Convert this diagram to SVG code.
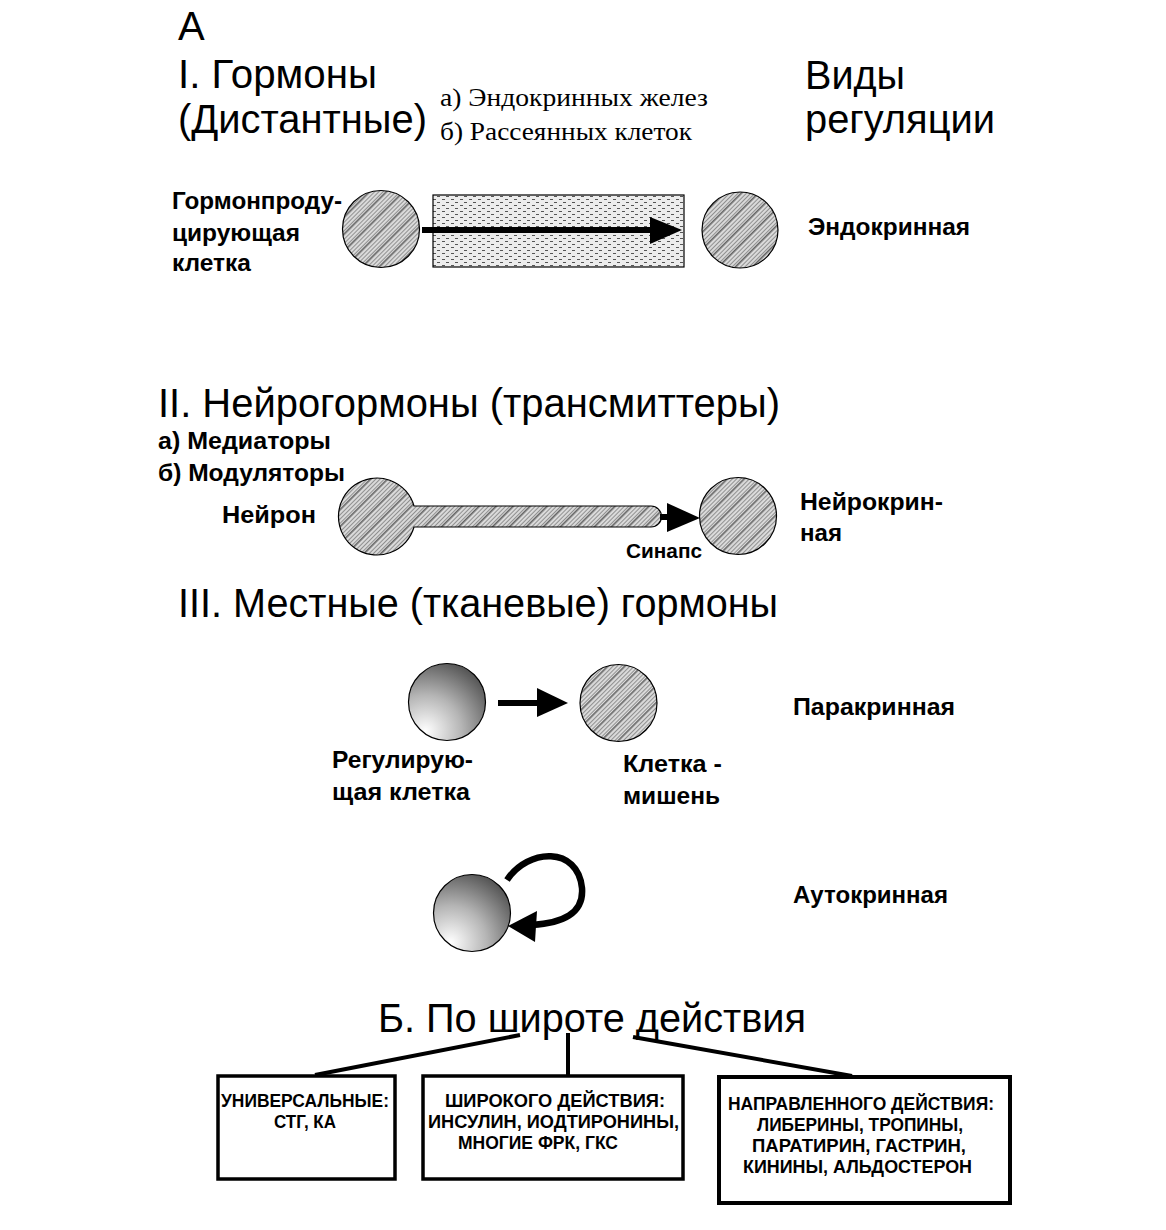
<svg xmlns="http://www.w3.org/2000/svg" width="1166" height="1230" viewBox="0 0 1166 1230">
<defs>
<style>
.h{font-family:"Liberation Sans",Arial,sans-serif;font-size:40px;fill:#000}
.m{font-family:"Liberation Sans",Arial,sans-serif;font-size:23px;font-weight:bold;fill:#000}
.s{font-family:"Liberation Serif","Times New Roman",serif;font-size:26px;fill:#000}
.b{font-family:"Liberation Sans",Arial,sans-serif;font-size:19px;font-weight:bold;fill:#000}
.cell{fill:url(#hatch);stroke:#000;stroke-width:1.2}
.ball{fill:url(#ball);stroke:#000;stroke-width:1.2}
.box{fill:#fff;stroke:#000;stroke-width:3.5}
.ln{stroke:#000;stroke-width:4;fill:none}
</style>
<pattern id="hatch" width="12" height="12" patternUnits="userSpaceOnUse" patternTransform="rotate(-45)">
<rect width="12" height="12" fill="#dadada"/>
<path d="M0,1.5H12M0,4.5H12M0,7.5H12M0,10.5H12" stroke="#707070" stroke-width="0.7"/>
<path d="M0,0H12" stroke="#333" stroke-width="1.4"/>
</pattern>
<pattern id="dots" width="9" height="6" patternUnits="userSpaceOnUse">
<rect width="9" height="6" fill="#ececec"/>
<path d="M1,1.5h3M5,4.5h3" stroke="#555" stroke-width="1"/>
</pattern>
<radialGradient id="ball" cx="0.22" cy="0.88" r="1.05" fx="0.22" fy="0.88">
<stop offset="0" stop-color="#ffffff"/>
<stop offset="0.45" stop-color="#b5b5b5"/>
<stop offset="1" stop-color="#444"/>
</radialGradient>
</defs>
<rect width="1166" height="1230" fill="#fff"/>

<g id="titles">
<text class="h" x="178" y="40">А</text>
<text class="h" x="178" y="88" textLength="199" lengthAdjust="spacingAndGlyphs">I. Гормоны</text>
<text class="h" x="178" y="133" textLength="249" lengthAdjust="spacingAndGlyphs">(Дистантные)</text>
<text class="s" x="440" y="106" textLength="268" lengthAdjust="spacingAndGlyphs">а) Эндокринных желез</text>
<text class="s" x="440" y="140" textLength="252" lengthAdjust="spacingAndGlyphs">б) Рассеянных клеток</text>
<text class="h" x="805" y="89" textLength="100" lengthAdjust="spacingAndGlyphs">Виды</text>
<text class="h" x="805" y="133" textLength="190" lengthAdjust="spacingAndGlyphs">регуляции</text>
<text class="h" x="158" y="417" textLength="622" lengthAdjust="spacingAndGlyphs">II. Нейрогормоны (трансмиттеры)</text>
<text class="m" x="158" y="449" textLength="173" lengthAdjust="spacingAndGlyphs">а) Медиаторы</text>
<text class="m" x="158" y="481" textLength="187" lengthAdjust="spacingAndGlyphs">б) Модуляторы</text>
<text class="h" x="178" y="617" textLength="600" lengthAdjust="spacingAndGlyphs">III. Местные (тканевые) гормоны</text>
<text class="h" x="378" y="1032" textLength="428" lengthAdjust="spacingAndGlyphs">Б. По широте действия</text>
</g>

<g id="endocrine">
<text class="m" x="172" y="209" textLength="170" lengthAdjust="spacingAndGlyphs">Гормонпроду-</text>
<text class="m" x="172" y="241" textLength="128" lengthAdjust="spacingAndGlyphs">цирующая</text>
<text class="m" x="172" y="271" textLength="79" lengthAdjust="spacingAndGlyphs">клетка</text>
<circle id="hormone-cell" class="cell" cx="381" cy="229" r="38.5"/>
<rect id="vessel" x="433" y="195" width="251" height="72" fill="url(#dots)" stroke="#000" stroke-width="1.2"/>
<circle id="endo-target" class="cell" cx="740" cy="230" r="38"/>
<text class="m" x="808" y="235" textLength="162" lengthAdjust="spacingAndGlyphs">Эндокринная</text>
</g>

<g id="neurocrine">
<text class="m" x="222" y="523" textLength="94" lengthAdjust="spacingAndGlyphs">Нейрон</text>
<path id="neuron" class="cell" d="M414,506 A38.5,38.5 0 1 0 414,527 L651,527 A10.5,10.5 0 0 0 651,506 Z"/>
<circle id="neuro-target" class="cell" cx="738" cy="516" r="38.5"/>
<text class="m" x="626" y="558" style="font-size:20px" textLength="76" lengthAdjust="spacingAndGlyphs">Синапс</text>
<text class="m" x="800" y="510" textLength="143" lengthAdjust="spacingAndGlyphs">Нейрокрин-</text>
<text class="m" x="800" y="541" textLength="42" lengthAdjust="spacingAndGlyphs">ная</text>
</g>

<g id="paracrine">
<circle id="regulating-cell" class="ball" cx="447" cy="702" r="38.5"/>
<circle id="target-cell" class="cell" cx="618.5" cy="703" r="38.5"/>
<text class="m" x="793" y="715" textLength="162" lengthAdjust="spacingAndGlyphs">Паракринная</text>
<text class="m" x="332" y="768" textLength="141" lengthAdjust="spacingAndGlyphs">Регулирую-</text>
<text class="m" x="332" y="800" textLength="138" lengthAdjust="spacingAndGlyphs">щая клетка</text>
<text class="m" x="623" y="772" textLength="99" lengthAdjust="spacingAndGlyphs">Клетка -</text>
<text class="m" x="623" y="804" textLength="97" lengthAdjust="spacingAndGlyphs">мишень</text>
</g>

<g id="autocrine">
<circle id="auto-cell" class="ball" cx="472" cy="913" r="38.5"/>
<text class="m" x="793" y="903" textLength="155" lengthAdjust="spacingAndGlyphs">Аутокринная</text>
</g>

<g id="box-universal">
<rect class="box" x="218" y="1076" width="177" height="103"/>
<text class="b" x="221" y="1107" textLength="168" lengthAdjust="spacingAndGlyphs">УНИВЕРСАЛЬНЫЕ:</text>
<text class="b" x="274" y="1128" textLength="62" lengthAdjust="spacingAndGlyphs">СТГ, КА</text>
</g>
<g id="box-broad">
<rect class="box" x="423" y="1076" width="260" height="103"/>
<text class="b" x="445" y="1107" textLength="220" lengthAdjust="spacingAndGlyphs">ШИРОКОГО ДЕЙСТВИЯ:</text>
<text class="b" x="428" y="1128" textLength="251" lengthAdjust="spacingAndGlyphs">ИНСУЛИН, ИОДТИРОНИНЫ,</text>
<text class="b" x="458" y="1149" textLength="160" lengthAdjust="spacingAndGlyphs">МНОГИЕ ФРК, ГКС</text>
</g>
<g id="box-directed">
<rect class="box" x="719" y="1077" width="291" height="126" style="stroke-width:4"/>
<text class="b" x="728" y="1110" textLength="266" lengthAdjust="spacingAndGlyphs">НАПРАВЛЕННОГО ДЕЙСТВИЯ:</text>
<text class="b" x="757" y="1131" textLength="206" lengthAdjust="spacingAndGlyphs">ЛИБЕРИНЫ, ТРОПИНЫ,</text>
<text class="b" x="752" y="1152" textLength="214" lengthAdjust="spacingAndGlyphs">ПАРАТИРИН, ГАСТРИН,</text>
<text class="b" x="743" y="1173" textLength="229" lengthAdjust="spacingAndGlyphs">КИНИНЫ, АЛЬДОСТЕРОН</text>
</g>

<g id="connectors">
<line x1="422" y1="230" x2="652" y2="230" stroke="#000" stroke-width="6"/>
<polygon points="650,217 682,230 650,244" fill="#000"/>
<line x1="660" y1="517" x2="672" y2="517" stroke="#000" stroke-width="6"/>
<polygon points="667,503 700,518 667,532" fill="#000"/>
<line x1="498" y1="703" x2="540" y2="703" stroke="#000" stroke-width="6"/>
<polygon points="537,688 568,703 537,717" fill="#000"/>
<path d="M507,880 C528,848 578,846 582,888 C584,914 562,923 532,925" stroke="#000" stroke-width="6.5" fill="none"/>
<polygon points="508,926 537,911 535,942" fill="#000"/>
<line class="ln" x1="520" y1="1035" x2="315" y2="1075"/>
<line class="ln" x1="568" y1="1033" x2="568" y2="1076"/>
<line class="ln" x1="633" y1="1037" x2="852" y2="1076"/>
</g>
</svg>
